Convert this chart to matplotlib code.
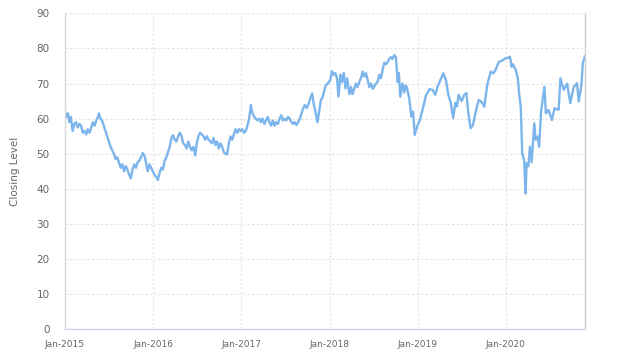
import numpy as np
import pandas as pd
import matplotlib
matplotlib.use("Agg")
import matplotlib.pyplot as plt
import matplotlib.dates as mdates

# points (à peu près une valeur par semaine)
dates = [
    # 2015
    "2015-01-02", "2015-01-08", "2015-01-14", "2015-01-20", "2015-01-26", "2015-02-02",
    "2015-02-09", "2015-02-16", "2015-02-23", "2015-03-02", "2015-03-09", "2015-03-16",
    "2015-03-23", "2015-03-30", "2015-04-06", "2015-04-13", "2015-04-20", "2015-04-27",
    "2015-05-04", "2015-05-11", "2015-05-18", "2015-05-22", "2015-05-28", "2015-06-04",
    "2015-06-11", "2015-06-18", "2015-06-25", "2015-07-02", "2015-07-09", "2015-07-16",
    "2015-07-23", "2015-07-30", "2015-08-06", "2015-08-13", "2015-08-20", "2015-08-27",
    "2015-09-03", "2015-09-10", "2015-09-17", "2015-09-24", "2015-10-01", "2015-10-08",
    "2015-10-15", "2015-10-22", "2015-10-29", "2015-11-05", "2015-11-12", "2015-11-19",
    "2015-11-26", "2015-12-03", "2015-12-10", "2015-12-17", "2015-12-24", "2015-12-31",
    # 2016
    "2016-01-07", "2016-01-14", "2016-01-21", "2016-01-28", "2016-02-04", "2016-02-11",
    "2016-02-18", "2016-02-25", "2016-03-03", "2016-03-10", "2016-03-17", "2016-03-24",
    "2016-03-31", "2016-04-07", "2016-04-14", "2016-04-21", "2016-04-28", "2016-05-05",
    "2016-05-12", "2016-05-19", "2016-05-26", "2016-06-02", "2016-06-09", "2016-06-16",
    "2016-06-24", "2016-06-30", "2016-07-07", "2016-07-14", "2016-07-21", "2016-07-28",
    "2016-08-04", "2016-08-11", "2016-08-18", "2016-08-25", "2016-09-01", "2016-09-08",
    "2016-09-15", "2016-09-22", "2016-09-29", "2016-10-06", "2016-10-13", "2016-10-20",
    "2016-10-27", "2016-11-03", "2016-11-10", "2016-11-17", "2016-11-24", "2016-12-01",
    "2016-12-08", "2016-12-15", "2016-12-22", "2016-12-29",
    # 2017
    "2017-01-05", "2017-01-12", "2017-01-19", "2017-01-26", "2017-02-02", "2017-02-09",
    "2017-02-16", "2017-02-23", "2017-03-02", "2017-03-09", "2017-03-16", "2017-03-23",
    "2017-03-30", "2017-04-06", "2017-04-13", "2017-04-20", "2017-04-27", "2017-05-04",
    "2017-05-11", "2017-05-18", "2017-05-25", "2017-06-01", "2017-06-08", "2017-06-15",
    "2017-06-22", "2017-06-29", "2017-07-06", "2017-07-13", "2017-07-20", "2017-07-27",
    "2017-08-03", "2017-08-10", "2017-08-17", "2017-08-24", "2017-08-31", "2017-09-07",
    "2017-09-14", "2017-09-21", "2017-09-28", "2017-10-05", "2017-10-12", "2017-10-21",
    "2017-10-28", "2017-11-04", "2017-11-12", "2017-11-19", "2017-11-26", "2017-12-03",
    "2017-12-10", "2017-12-17", "2017-12-24",
    # 2018
    "2018-01-04", "2018-01-11", "2018-01-18", "2018-01-25", "2018-02-01", "2018-02-07",
    "2018-02-15", "2018-02-22", "2018-03-01", "2018-03-08", "2018-03-15", "2018-03-24",
    "2018-03-31", "2018-04-06", "2018-04-13", "2018-04-20", "2018-04-27", "2018-05-04",
    "2018-05-11", "2018-05-18", "2018-05-25", "2018-06-01", "2018-06-08", "2018-06-15",
    "2018-06-22", "2018-06-29", "2018-07-05", "2018-07-12", "2018-07-19", "2018-07-26",
    "2018-08-02", "2018-08-09", "2018-08-16", "2018-08-23", "2018-08-29", "2018-09-05",
    "2018-09-12", "2018-09-19", "2018-09-26", "2018-10-03", "2018-10-10", "2018-10-15",
    "2018-10-21", "2018-10-30", "2018-11-06", "2018-11-12", "2018-11-17", "2018-11-27",
    "2018-12-06", "2018-12-13", "2018-12-20", "2018-12-24", "2018-12-31",
    # 2019
    "2019-01-10", "2019-01-23", "2019-02-05", "2019-02-12", "2019-02-19", "2019-03-04",
    "2019-03-15", "2019-03-24", "2019-04-08", "2019-04-17", "2019-04-28", "2019-05-08",
    "2019-05-18", "2019-05-28", "2019-06-06", "2019-06-13", "2019-06-20", "2019-07-02",
    "2019-07-13", "2019-07-22", "2019-07-29", "2019-08-08", "2019-08-18", "2019-08-31",
    "2019-09-11", "2019-09-23", "2019-10-04", "2019-10-17", "2019-10-31", "2019-11-10",
    "2019-11-19", "2019-12-03", "2019-12-16", "2019-12-30",
    # 2020
    "2020-01-10", "2020-01-18", "2020-01-25", "2020-01-30", "2020-02-11", "2020-02-20",
    "2020-02-25", "2020-03-03", "2020-03-09", "2020-03-17", "2020-03-23", "2020-03-27",
    "2020-04-03", "2020-04-10", "2020-04-17", "2020-04-28", "2020-05-04", "2020-05-12",
    "2020-05-18", "2020-05-26", "2020-06-09", "2020-06-15", "2020-06-26", "2020-07-10",
    "2020-07-21", "2020-08-07", "2020-08-14", "2020-08-28", "2020-09-11", "2020-09-24",
    "2020-10-08", "2020-10-22", "2020-10-29", "2020-11-09", "2020-11-15", "2020-11-23",
]

closing = [
    # 2015
    62.0, 60.5, 61.5, 59.0, 60.5, 56.5,
    58.5, 59.0, 57.5, 58.5, 58.0, 56.0,
    56.5, 55.5, 57.0, 56.0, 57.5, 59.0,
    58.0, 59.5, 60.5, 61.5, 60.0, 59.5,
    58.0, 56.5, 55.0, 53.5, 52.0, 51.0,
    50.0, 48.5, 49.0, 47.5, 46.0, 47.0,
    45.0, 46.5, 45.5, 44.0, 43.0, 45.5,
    47.0, 46.0, 47.5, 48.0, 49.0, 50.2,
    49.5, 47.5, 45.0, 47.0, 46.0, 45.0,
    # 2016
    44.0, 43.5, 42.5, 44.5, 46.0, 45.5,
    48.0, 49.0, 50.5, 52.0, 54.5, 55.3,
    54.0, 53.5, 55.0, 56.0, 55.0, 53.0,
    52.5, 51.5, 53.5, 52.0, 51.0, 52.0,
    49.5, 53.0, 55.0, 56.0, 55.5, 55.0,
    54.0, 55.0, 54.0, 53.5, 53.0, 54.5,
    52.5, 53.5, 51.5, 53.0, 52.0, 50.5,
    50.0, 49.8, 53.0, 54.9, 54.0, 55.5,
    57.0, 56.0, 57.0, 56.5,
    # 2017
    57.0, 56.0, 56.5, 58.0, 60.0, 63.9,
    61.5, 60.5, 60.0, 59.5, 60.0, 59.0,
    60.0, 58.5, 59.5, 60.5, 59.0, 58.0,
    59.5, 58.0, 59.0, 58.5, 60.0, 61.0,
    59.5, 60.0, 59.5, 60.5, 60.0, 59.0,
    58.5, 59.0, 58.2, 59.0, 60.0, 61.5,
    63.0, 63.9, 63.0, 64.0, 65.5, 67.2,
    64.0, 62.0, 59.0, 62.0, 65.3, 66.0,
    68.0, 69.5, 70.0,
    # 2018
    71.0, 73.5, 72.5, 73.0, 71.5, 66.3,
    72.5, 70.5, 73.0, 68.6, 71.5, 67.0,
    69.0, 67.0, 68.5, 70.0, 69.0, 70.5,
    71.5, 73.4, 72.0, 73.0, 71.0, 69.0,
    70.0, 68.5, 69.1, 70.0, 70.5, 72.5,
    71.5, 74.0, 76.0, 75.5, 76.0, 77.0,
    77.5, 77.0, 78.1, 77.5, 70.5, 73.0,
    66.3, 70.0, 67.5, 69.5, 69.0, 65.8,
    60.6, 62.0, 55.4, 56.5, 58.0,
    # 2019
    59.6, 63.0, 66.8, 67.5, 68.4, 68.2,
    66.8, 69.1, 71.5, 72.9, 71.0, 66.8,
    64.5, 60.2, 64.5, 63.5, 66.8, 65.0,
    66.8, 67.3, 62.0, 57.3, 58.2, 62.5,
    65.3, 64.8, 63.4, 70.0, 73.4, 72.9,
    73.8, 76.2, 76.5, 77.2,
    # 2020
    77.3, 77.7, 74.8, 75.5, 73.9, 71.5,
    67.2, 63.4, 50.1, 48.2, 38.7, 47.3,
    46.4, 52.0, 47.6, 58.7, 54.0, 54.9,
    52.0, 62.0, 69.1, 61.5, 62.5, 59.6,
    63.0, 62.5, 71.5, 68.2, 70.0, 64.4,
    69.0, 70.1, 64.9, 69.5, 75.8, 77.7,
]

serie = pd.Series(closing, index=pd.to_datetime(dates))

fig = plt.figure(figsize=(6.24, 3.62), dpi=100)
ax = fig.add_axes([0.104, 0.0903, 0.8335, 0.8728])

ax.plot(serie.index, serie.values, color="#7cb5ec", linewidth=1.7, solid_joinstyle="round")

# axes
ax.set_ylim(0, 90)
ax.set_yticks(np.arange(0, 91, 10))
ax.set_xlim(pd.Timestamp("2015-01-01"), pd.Timestamp("2020-11-24"))
ax.xaxis.set_major_locator(mdates.YearLocator())
ax.xaxis.set_major_formatter(mdates.DateFormatter("%b-%Y"))

ax.grid(True, color="#e2e2e2", linestyle=(0, (2, 2)), linewidth=0.8)
ax.set_axisbelow(True)

ax.spines["top"].set_visible(False)
ax.spines["left"].set_color("#d8d8d8")
ax.spines["right"].set_color("#cfcfcf")
ax.spines["bottom"].set_color("#ccd6eb")
for sp in ax.spines.values():
    sp.set_linewidth(1)

ax.tick_params(axis="y", length=0, pad=11, labelsize=7.5, labelcolor="#666666")
ax.tick_params(axis="x", length=0, pad=8, labelsize=6.5, labelcolor="#666666")

ax.set_ylabel("Closing Level", color="#666666", fontsize=7.5, labelpad=12)

plt.savefig("out.png", dpi=100)
